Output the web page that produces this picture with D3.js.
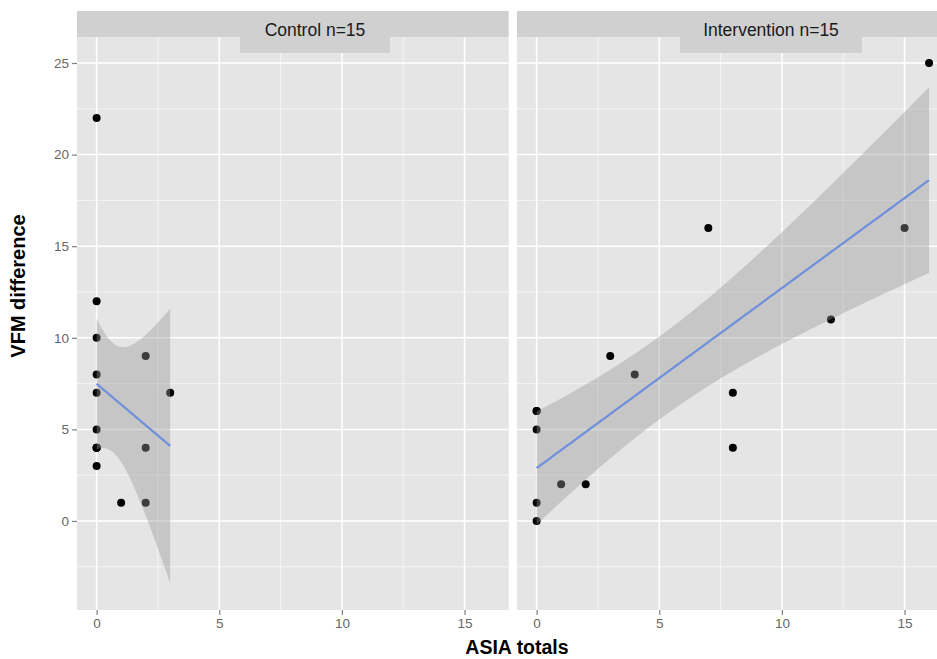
<!DOCTYPE html>
<html>
<head>
<meta charset="utf-8">
<script src="https://cdn.jsdelivr.net/npm/d3@7"></script>
<style>
  html, body { margin: 0; padding: 0; background: #ffffff; }
  svg { display: block; }
  text { font-family: "Liberation Sans", Arial, Helvetica, sans-serif; }
</style>
</head>
<body>
<svg id="chart" width="937" height="659"></svg>
<script>
// ---- data ----
const panelTitles = ["Control n=15", "Intervention n=15"];
const controlX = [0, 0, 0, 0, 0, 0, 0, 0, 0, 0, 1, 2, 2, 2, 3];
const controlY = [22, 12, 10, 8, 7, 5, 4, 4, 4, 3, 1, 9, 4, 1, 7];
const interventionX = [0, 0, 0, 0, 0, 1, 2, 3, 4, 7, 8, 8, 12, 15, 16];
const interventionY = [6, 6, 5, 1, 0, 2, 2, 9, 8, 16, 7, 4, 11, 16, 25];
const xTicks = [0, 5, 10, 15];
const xMinor = [2.5, 7.5, 12.5];
const yTicks = [0, 5, 10, 15, 20, 25];
const yMinor = [-2.5, 2.5, 7.5, 12.5, 17.5, 22.5];
const xLabel = "ASIA totals";
const yLabel = "VFM difference";
const tCrit = 2.160369; // t quantile 0.975, df = 13

// ---- layout ----
const W = 937, H = 659;
const panelTop = 37, panelBottom = 610;
const panels = [
  { title: panelTitles[0], xs: controlX, ys: controlY, left: 77, right: 508.7, box: [240, 390] },
  { title: panelTitles[1], xs: interventionX, ys: interventionY, left: 517, right: 948.7, box: [680, 862] }
];
const xDomain = [-0.8, 16.8];
const yDomain = [-4.86, 26.42];

const svg = d3.select("#chart");
const y = d3.scaleLinear().domain(yDomain).range([panelBottom, panelTop]);

function smooth(xs, ys) {
  const n = xs.length;
  const mx = d3.mean(xs), my = d3.mean(ys);
  let sxx = 0, sxy = 0;
  for (let i = 0; i < n; i++) { sxx += (xs[i] - mx) ** 2; sxy += (xs[i] - mx) * (ys[i] - my); }
  const b = sxy / sxx, a = my - b * mx;
  let sse = 0;
  for (let i = 0; i < n; i++) sse += (ys[i] - a - b * xs[i]) ** 2;
  const s = Math.sqrt(sse / (n - 2));
  const [x0, x1] = d3.extent(xs);
  const pts = [];
  for (let k = 0; k < 80; k++) {
    const xv = x0 + (x1 - x0) * k / 79;
    const fit = a + b * xv;
    const se = s * Math.sqrt(1 / n + (xv - mx) ** 2 / sxx);
    pts.push({ x: xv, y: fit, lo: fit - tCrit * se, hi: fit + tCrit * se });
  }
  return pts;
}

panels.forEach((p, pi) => {
  const x = d3.scaleLinear().domain(xDomain).range([p.left, p.right]);
  const g = svg.append("g");

  g.append("rect")
    .attr("x", p.left).attr("y", panelTop)
    .attr("width", p.right - p.left).attr("height", panelBottom - panelTop)
    .attr("fill", "#e5e5e5");

  // minor grid
  g.selectAll(".vmin").data(xMinor).enter().append("line")
    .attr("x1", d => x(d)).attr("x2", d => x(d))
    .attr("y1", panelTop).attr("y2", panelBottom)
    .attr("stroke", "#f4f4f4").attr("stroke-width", 1);
  g.selectAll(".hmin").data(yMinor).enter().append("line")
    .attr("x1", p.left).attr("x2", p.right)
    .attr("y1", d => y(d)).attr("y2", d => y(d))
    .attr("stroke", "#f4f4f4").attr("stroke-width", 1);
  // major grid
  g.selectAll(".vmaj").data(xTicks).enter().append("line")
    .attr("x1", d => x(d)).attr("x2", d => x(d))
    .attr("y1", panelTop).attr("y2", panelBottom)
    .attr("stroke", "#ffffff").attr("stroke-width", 1.5);
  g.selectAll(".hmaj").data(yTicks).enter().append("line")
    .attr("x1", p.left).attr("x2", p.right)
    .attr("y1", d => y(d)).attr("y2", d => y(d))
    .attr("stroke", "#ffffff").attr("stroke-width", 1.5);

  // points
  const pts = p.xs.map((xv, i) => ({ x: xv, y: p.ys[i] }));
  g.selectAll(".pt").data(pts).enter().append("circle")
    .attr("cx", d => x(d.x)).attr("cy", d => y(d.y))
    .attr("r", 4).attr("fill", "#000000");

  // smooth
  const sm = smooth(p.xs, p.ys);
  g.append("path").datum(sm)
    .attr("d", d3.area().x(d => x(d.x)).y0(d => y(d.lo)).y1(d => y(d.hi)))
    .attr("fill", "#999999").attr("fill-opacity", 0.4);
  g.append("path").datum(sm)
    .attr("d", d3.line().x(d => x(d.x)).y(d => y(d.y)))
    .attr("fill", "none").attr("stroke", "#6f8fdc").attr("stroke-width", 2.2);

  // strip
  g.append("rect")
    .attr("x", p.left).attr("y", 11)
    .attr("width", p.right - p.left).attr("height", panelTop - 11)
    .attr("fill", "#d0d0d0");
  g.append("rect")
    .attr("x", p.box[0]).attr("y", 11)
    .attr("width", p.box[1] - p.box[0]).attr("height", 42)
    .attr("fill", "#d0d0d0");
  g.append("text")
    .attr("x", (p.box[0] + p.box[1]) / 2).attr("y", 36)
    .attr("text-anchor", "middle")
    .attr("font-size", 17.5).attr("fill", "#1a1a1a")
    .text(p.title);

  // x axis
  const xAxis = d3.axisBottom(x).tickValues(xTicks).tickSize(5).tickPadding(3).tickFormat(d3.format("d"));
  const ax = g.append("g").attr("transform", `translate(0,${panelBottom})`).call(xAxis);
  ax.select(".domain").remove();
  ax.selectAll("line").attr("stroke", "#7f7f7f").attr("stroke-width", 1.2);
  ax.selectAll("text").attr("font-size", 13.5).attr("fill", "#666666")
    .attr("font-family", '"Liberation Sans", Arial, sans-serif');

  if (pi === 0) {
    const yAxis = d3.axisLeft(y).tickValues(yTicks).tickSize(5).tickPadding(3).tickFormat(d3.format("d"));
    const ay = g.append("g").attr("transform", `translate(${p.left},0)`).call(yAxis);
    ay.select(".domain").remove();
    ay.selectAll("line").attr("stroke", "#7f7f7f").attr("stroke-width", 1.2);
    ay.selectAll("text").attr("font-size", 13.5).attr("fill", "#666666")
      .attr("font-family", '"Liberation Sans", Arial, sans-serif');
  }
});

// axis titles
svg.append("text")
  .attr("x", 517).attr("y", 654)
  .attr("text-anchor", "middle")
  .attr("font-size", 19.5).attr("font-weight", "bold").attr("fill", "#000")
  .text(xLabel);
svg.append("text")
  .attr("transform", "translate(25,286) rotate(-90)")
  .attr("text-anchor", "middle")
  .attr("font-size", 20).attr("font-weight", "bold").attr("fill", "#000")
  .text(yLabel);
</script>
</body>
</html>
